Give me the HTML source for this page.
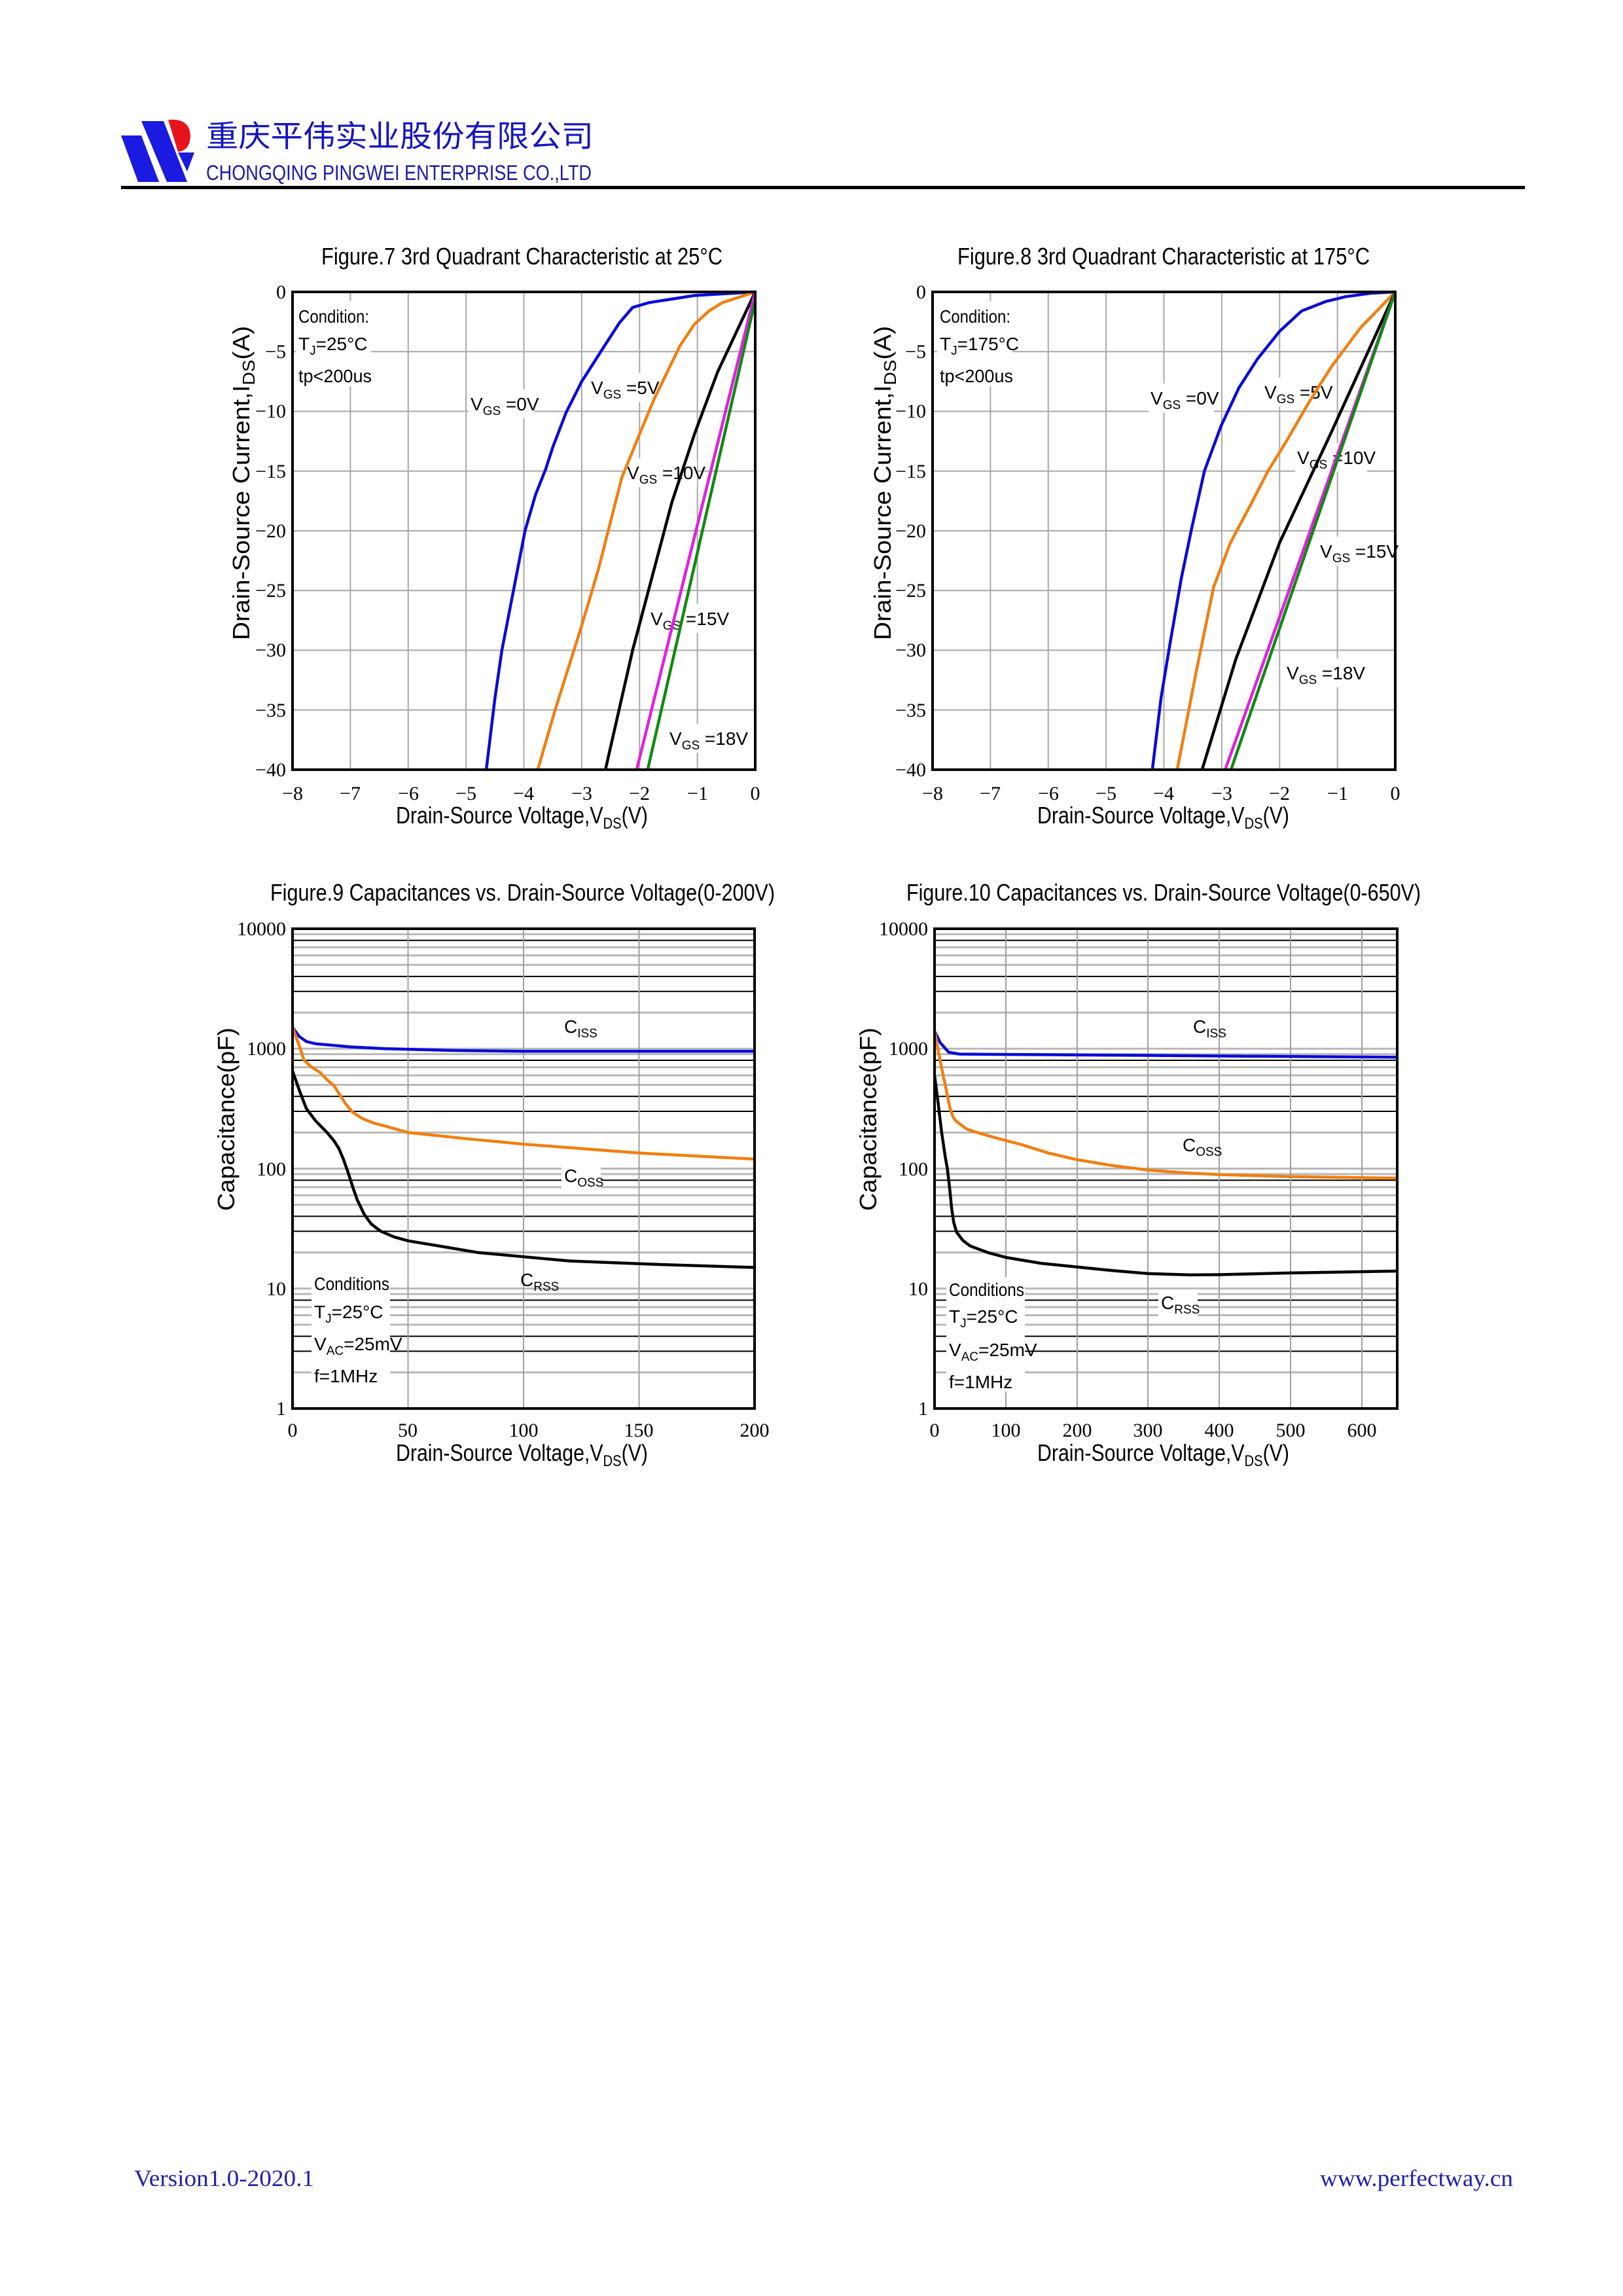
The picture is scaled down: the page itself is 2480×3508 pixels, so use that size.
<!DOCTYPE html>
<html><head><meta charset="utf-8"><style>
html,body{margin:0;padding:0;background:#fff;}
svg{display:block;}
.t{font-family:"Liberation Sans",sans-serif;}
.s{font-family:"Liberation Serif",serif;}
</style></head><body>
<svg width="2480" height="3508" viewBox="0 0 2480 3508" xmlns="http://www.w3.org/2000/svg">
<defs>
<g id="dec">
<line x1="0" x2="1" y1="8.4" y2="8.4" stroke="#b8b8b8" stroke-width="3" vector-effect="non-scaling-stroke"/>
<line x1="0" x2="1" y1="17.8" y2="17.8" stroke="#000" stroke-width="2" vector-effect="non-scaling-stroke"/>
<line x1="0" x2="1" y1="28.4" y2="28.4" stroke="#b8b8b8" stroke-width="3" vector-effect="non-scaling-stroke"/>
<line x1="0" x2="1" y1="40.7" y2="40.7" stroke="#b8b8b8" stroke-width="3" vector-effect="non-scaling-stroke"/>
<line x1="0" x2="1" y1="55.2" y2="55.2" stroke="#b8b8b8" stroke-width="3" vector-effect="non-scaling-stroke"/>
<line x1="0" x2="1" y1="72.9" y2="72.9" stroke="#000" stroke-width="2" vector-effect="non-scaling-stroke"/>
<line x1="0" x2="1" y1="95.8" y2="95.8" stroke="#000" stroke-width="2" vector-effect="non-scaling-stroke"/>
<line x1="0" x2="1" y1="128.1" y2="128.1" stroke="#b8b8b8" stroke-width="3" vector-effect="non-scaling-stroke"/>
<line x1="0" x2="1" y1="183.25" y2="183.25" stroke="#b8b8b8" stroke-width="3" vector-effect="non-scaling-stroke"/>
</g>
</defs>

<!-- Header -->
<polygon points="185,207 216,207 243,278 211,278" fill="#1a1ae0"/>
<polygon points="216,185 250,185 286,278 255,278" fill="#1a1ae0"/>
<polygon points="272,233 297,233 286,262" fill="#1a1ae0"/>
<path d="M257,183 Q290,180 291,208 Q290,230 272,232 Z" fill="#e8141c"/>
<text x="315" y="224" font-family="'Noto Sans CJK SC',sans-serif" font-size="46" fill="#1515c0" textLength="592" lengthAdjust="spacingAndGlyphs">重庆平伟实业股份有限公司</text>
<text x="315" y="275" class="t" font-size="32" fill="#1a1aa8" textLength="589" lengthAdjust="spacingAndGlyphs">CHONGQING PINGWEI ENTERPRISE CO.,LTD</text>
<rect x="185" y="284" width="2145" height="5" fill="#000"/>

<!-- ============ FIG 7 ============ -->
<text x="491" y="404" class="t" font-size="36" textLength="613" lengthAdjust="spacingAndGlyphs">Figure.7 3rd Quadrant Characteristic at 25°C</text>
<g transform="translate(447,446) scale(88.375,18.25)" fill="none" stroke="#a8a8a8" stroke-width="2">
<path vector-effect="non-scaling-stroke" d="M1,0V40M2,0V40M3,0V40M4,0V40M5,0V40M6,0V40M7,0V40M0,5H8M0,10H8M0,15H8M0,20H8M0,25H8M0,30H8M0,35H8"/>
</g>
<g class="t" font-size="28">
<rect x="452" y="460" width="115" height="130" fill="#fff"/>
<text x="456" y="493" textLength="108" lengthAdjust="spacingAndGlyphs">Condition:</text>
<text x="456" y="535">T<tspan font-size="19" dy="7">J</tspan><tspan dy="-7">=25°C</tspan></text>
<text x="456" y="584" textLength="112" lengthAdjust="spacingAndGlyphs">tp&lt;200us</text>
<rect x="716" y="595" width="100" height="44" fill="#fff"/>
<text x="719" y="627">V<tspan font-size="19" dy="7">GS</tspan><tspan dy="-7"> =0V</tspan></text>
<rect x="900" y="570" width="100" height="44" fill="#fff"/>
<text x="903" y="602">V<tspan font-size="19" dy="7">GS</tspan><tspan dy="-7"> =5V</tspan></text>
<rect x="955" y="700" width="110" height="44" fill="#fff"/>
<text x="958" y="732">V<tspan font-size="19" dy="7">GS</tspan><tspan dy="-7"> =10V</tspan></text>
<rect x="991" y="923" width="110" height="44" fill="#fff"/>
<text x="994" y="955">V<tspan font-size="19" dy="7">GS</tspan><tspan dy="-7"> =15V</tspan></text>
<rect x="1020" y="1106" width="110" height="44" fill="#fff"/>
<text x="1023" y="1138">V<tspan font-size="19" dy="7">GS</tspan><tspan dy="-7"> =18V</tspan></text>
</g>
<g transform="translate(447,446) scale(88.375,18.25)" fill="none" stroke-width="4.5" stroke-linejoin="round">
<polyline vector-effect="non-scaling-stroke" stroke="#0a0ad8" points="3.35,40 3.5,34 3.62,30 3.82,25 4.02,20 4.2,17 4.38,14.8 4.5,13 4.73,10.1 5.0,7.5 5.37,4.7 5.65,2.6 5.88,1.3 6.16,0.9 6.95,0.3 8,0"/>
<polyline vector-effect="non-scaling-stroke" stroke="#f07f10" points="4.24,40 4.54,35 4.97,28.4 5.15,25.5 5.29,23.2 5.5,19.2 5.69,15.6 6.0,11.9 6.25,9 6.48,6.7 6.7,4.5 6.95,2.7 7.2,1.6 7.43,0.9 8,0"/>
<polyline vector-effect="non-scaling-stroke" stroke="#000" points="5.41,40 5.88,30 6.56,17.6 6.95,11.9 7.35,6.7 8,0"/>
<polyline vector-effect="non-scaling-stroke" stroke="#e020e0" points="5.95,40 8,0"/>
<polyline vector-effect="non-scaling-stroke" stroke="#108a10" points="6.14,40 8,0.7"/>
</g>
<rect x="447" y="446" width="707" height="730" fill="none" stroke="#000" stroke-width="4"/>
<g class="s" font-size="30" text-anchor="end">
<text x="437" y="456">0</text><text x="437" y="547">−5</text><text x="437" y="638">−10</text><text x="437" y="730">−15</text><text x="437" y="821">−20</text><text x="437" y="912">−25</text><text x="437" y="1003">−30</text><text x="437" y="1095">−35</text><text x="437" y="1186">−40</text>
</g>
<g class="s" font-size="30" text-anchor="middle">
<text x="447" y="1222">−8</text><text x="535" y="1222">−7</text><text x="624" y="1222">−6</text><text x="712" y="1222">−5</text><text x="800" y="1222">−4</text><text x="889" y="1222">−3</text><text x="977" y="1222">−2</text><text x="1066" y="1222">−1</text><text x="1154" y="1222">0</text>
</g>
<text x="605" y="1258" class="t" font-size="36" textLength="385" lengthAdjust="spacingAndGlyphs">Drain-Source Voltage,V<tspan font-size="24" dy="8">DS</tspan><tspan dy="-8">(V)</tspan></text>
<text transform="translate(381,978) rotate(-90)" class="t" font-size="36" textLength="480" lengthAdjust="spacingAndGlyphs">Drain-Source Current,I<tspan font-size="26" dy="8">DS</tspan><tspan dy="-8">(A)</tspan></text>

<!-- ============ FIG 8 ============ -->
<text x="1463" y="404" class="t" font-size="36" textLength="630" lengthAdjust="spacingAndGlyphs">Figure.8 3rd Quadrant Characteristic at 175°C</text>
<g transform="translate(1425,446) scale(88.375,18.25)" fill="none" stroke="#a8a8a8" stroke-width="2">
<path vector-effect="non-scaling-stroke" d="M1,0V40M2,0V40M3,0V40M4,0V40M5,0V40M6,0V40M7,0V40M0,5H8M0,10H8M0,15H8M0,20H8M0,25H8M0,30H8M0,35H8"/>
</g>
<g class="t" font-size="28">
<rect x="1432" y="460" width="115" height="130" fill="#fff"/>
<text x="1436" y="493" textLength="108" lengthAdjust="spacingAndGlyphs">Condition:</text>
<text x="1436" y="535">T<tspan font-size="19" dy="7">J</tspan><tspan dy="-7">=175°C</tspan></text>
<text x="1436" y="584" textLength="112" lengthAdjust="spacingAndGlyphs">tp&lt;200us</text>
<rect x="1755" y="586" width="100" height="44" fill="#fff"/>
<text x="1758" y="618">V<tspan font-size="19" dy="7">GS</tspan><tspan dy="-7"> =0V</tspan></text>
<rect x="1929" y="577" width="100" height="44" fill="#fff"/>
<text x="1932" y="609">V<tspan font-size="19" dy="7">GS</tspan><tspan dy="-7"> =5V</tspan></text>
<rect x="1979" y="677" width="110" height="44" fill="#fff"/>
<text x="1982" y="709">V<tspan font-size="19" dy="7">GS</tspan><tspan dy="-7"> =10V</tspan></text>
<rect x="2014" y="820" width="110" height="44" fill="#fff"/>
<text x="2017" y="852">V<tspan font-size="19" dy="7">GS</tspan><tspan dy="-7"> =15V</tspan></text>
<rect x="1963" y="1006" width="110" height="44" fill="#fff"/>
<text x="1966" y="1038">V<tspan font-size="19" dy="7">GS</tspan><tspan dy="-7"> =18V</tspan></text>
</g>
<g transform="translate(1425,446) scale(88.375,18.25)" fill="none" stroke-width="4.5" stroke-linejoin="round">
<polyline vector-effect="non-scaling-stroke" stroke="#0a0ad8" points="3.8,40 3.95,34 4.1,29.6 4.3,24 4.48,19.8 4.7,15 4.99,11.2 5.3,8 5.62,5.6 6.0,3.3 6.38,1.6 6.8,0.8 7.14,0.4 7.6,0.1 8,0"/>
<polyline vector-effect="non-scaling-stroke" stroke="#f07f10" points="4.23,40 4.55,32 4.86,24.7 5.15,21 5.49,17.9 5.8,15 6.13,12.4 6.5,9.3 6.89,6.3 7.4,3 8,0"/>
<polyline vector-effect="non-scaling-stroke" stroke="#000" points="4.66,40 5.24,30.8 6.0,21 6.89,11.8 8,0"/>
<polyline vector-effect="non-scaling-stroke" stroke="#e020e0" points="5.06,40 8,0"/>
<polyline vector-effect="non-scaling-stroke" stroke="#108a10" points="5.16,40 8,0"/>
</g>
<rect x="1425" y="446" width="707" height="730" fill="none" stroke="#000" stroke-width="4"/>
<g class="s" font-size="30" text-anchor="end">
<text x="1415" y="456">0</text><text x="1415" y="547">−5</text><text x="1415" y="638">−10</text><text x="1415" y="730">−15</text><text x="1415" y="821">−20</text><text x="1415" y="912">−25</text><text x="1415" y="1003">−30</text><text x="1415" y="1095">−35</text><text x="1415" y="1186">−40</text>
</g>
<g class="s" font-size="30" text-anchor="middle">
<text x="1425" y="1222">−8</text><text x="1513" y="1222">−7</text><text x="1602" y="1222">−6</text><text x="1690" y="1222">−5</text><text x="1778" y="1222">−4</text><text x="1867" y="1222">−3</text><text x="1955" y="1222">−2</text><text x="2044" y="1222">−1</text><text x="2132" y="1222">0</text>
</g>
<text x="1585" y="1258" class="t" font-size="36" textLength="385" lengthAdjust="spacingAndGlyphs">Drain-Source Voltage,V<tspan font-size="24" dy="8">DS</tspan><tspan dy="-8">(V)</tspan></text>
<text transform="translate(1361,978) rotate(-90)" class="t" font-size="36" textLength="480" lengthAdjust="spacingAndGlyphs">Drain-Source Current,I<tspan font-size="26" dy="8">DS</tspan><tspan dy="-8">(A)</tspan></text>

<!-- ============ FIG 9 ============ -->
<text x="413" y="1376" class="t" font-size="36" textLength="771" lengthAdjust="spacingAndGlyphs">Figure.9 Capacitances vs. Drain-Source Voltage(0-200V)</text>
<g transform="translate(447,1419) scale(706,1)">
<use href="#dec"/><use href="#dec" y="183.25"/><use href="#dec" y="366.5"/><use href="#dec" y="549.75"/>
</g>
<g stroke="#a0a0a0" stroke-width="2"><line x1="623.5" x2="623.5" y1="1419" y2="2152"/><line x1="800" x2="800" y1="1419" y2="2152"/><line x1="976.5" x2="976.5" y1="1419" y2="2152"/></g>
<g transform="translate(447,1419) scale(3.53,183.25)" fill="none" stroke-width="4.5" stroke-linejoin="round">
<polyline vector-effect="non-scaling-stroke" stroke="#0a0ad8" points="0,0.824 3,0.9 6,0.94 10,0.959 25,0.985 40,1.0 70,1.015 100,1.022 200,1.022"/>
<polyline vector-effect="non-scaling-stroke" stroke="#f07f10" points="0,0.824 3,0.98 5,1.097 8,1.15 12,1.2 15,1.26 18,1.31 20,1.37 23,1.46 26,1.53 30,1.58 35,1.62 40,1.645 50,1.699 75,1.75 100,1.796 150,1.87 200,1.921"/>
<polyline vector-effect="non-scaling-stroke" stroke="#000" points="0,1.187 3,1.35 6,1.5 10,1.602 15,1.7 18,1.77 20,1.83 22,1.92 24,2.03 26,2.15 28,2.26 31,2.38 34,2.46 38,2.52 44,2.57 50,2.602 65,2.65 80,2.699 100,2.735 120,2.77 160,2.8 200,2.824"/>
</g>
<rect x="447" y="1419" width="706" height="733" fill="none" stroke="#000" stroke-width="4"/>
<g class="t" font-size="28">
<text x="862" y="1578">C<tspan font-size="19" dy="7">ISS</tspan></text>
<rect x="858" y="1776" width="60" height="44" fill="#fff"/>
<text x="862" y="1806">C<tspan font-size="19" dy="7">OSS</tspan></text>
<text x="795" y="1965">C<tspan font-size="19" dy="7">RSS</tspan></text>
<rect x="476" y="1942" width="120" height="175" fill="#fff"/>
<text x="480" y="1971" textLength="115" lengthAdjust="spacingAndGlyphs">Conditions</text>
<text x="480" y="2014">T<tspan font-size="19" dy="7">J</tspan><tspan dy="-7">=25°C</tspan></text>
<text x="480" y="2063">V<tspan font-size="19" dy="7">AC</tspan><tspan dy="-7">=25mV</tspan></text>
<text x="480" y="2112">f=1MHz</text>
</g>
<g class="s" font-size="30" text-anchor="end">
<text x="437" y="1429">10000</text><text x="437" y="1612">1000</text><text x="437" y="1796">100</text><text x="437" y="1979">10</text><text x="437" y="2162">1</text>
</g>
<g class="s" font-size="30" text-anchor="middle">
<text x="447" y="2195">0</text><text x="623" y="2195">50</text><text x="800" y="2195">100</text><text x="976" y="2195">150</text><text x="1153" y="2195">200</text>
</g>
<text x="605" y="2232" class="t" font-size="36" textLength="385" lengthAdjust="spacingAndGlyphs">Drain-Source Voltage,V<tspan font-size="24" dy="8">DS</tspan><tspan dy="-8">(V)</tspan></text>
<text transform="translate(358,1850) rotate(-90)" class="t" font-size="36" textLength="280" lengthAdjust="spacingAndGlyphs">Capacitance(pF)</text>

<!-- ============ FIG 10 ============ -->
<text x="1385" y="1376" class="t" font-size="36" textLength="786" lengthAdjust="spacingAndGlyphs">Figure.10 Capacitances vs. Drain-Source Voltage(0-650V)</text>
<g transform="translate(1428,1419) scale(707,1)">
<use href="#dec"/><use href="#dec" y="183.25"/><use href="#dec" y="366.5"/><use href="#dec" y="549.75"/>
</g>
<g stroke="#a0a0a0" stroke-width="2"><line x1="1537" x2="1537" y1="1419" y2="2152"/><line x1="1646" x2="1646" y1="1419" y2="2152"/><line x1="1754" x2="1754" y1="1419" y2="2152"/><line x1="1863" x2="1863" y1="1419" y2="2152"/><line x1="1972" x2="1972" y1="1419" y2="2152"/><line x1="2081" x2="2081" y1="1419" y2="2152"/></g>
<g transform="translate(1428,1419) scale(1.0877,183.25)" fill="none" stroke-width="4.5" stroke-linejoin="round">
<polyline vector-effect="non-scaling-stroke" stroke="#0a0ad8" points="0,0.854 8,0.95 20,1.03 35,1.045 50,1.046 150,1.05 300,1.056 450,1.063 650,1.071"/>
<polyline vector-effect="non-scaling-stroke" stroke="#f07f10" points="0,0.854 4,0.98 8,1.1 12,1.22 15,1.301 19,1.42 22,1.5 26,1.57 30,1.602 45,1.67 60,1.699 90,1.75 120,1.796 160,1.87 200,1.925 250,1.975 300,2.012 350,2.035 400,2.05 500,2.067 650,2.08"/>
<polyline vector-effect="non-scaling-stroke" stroke="#000" points="0,1.222 5,1.45 10,1.699 15,1.9 18,2.0 21,2.15 24,2.33 27,2.45 31,2.53 40,2.6 50,2.645 75,2.7 100,2.74 150,2.79 200,2.82 250,2.85 300,2.875 360,2.886 400,2.884 500,2.87 650,2.854"/>
</g>
<rect x="1428" y="1419" width="707" height="733" fill="none" stroke="#000" stroke-width="4"/>
<g class="t" font-size="28">
<text x="1823" y="1578">C<tspan font-size="19" dy="7">ISS</tspan></text>
<text x="1807" y="1759">C<tspan font-size="19" dy="7">OSS</tspan></text>
<rect x="1770" y="1970" width="60" height="44" fill="#fff"/>
<text x="1774" y="2000">C<tspan font-size="19" dy="7">RSS</tspan></text>
<rect x="1446" y="1951" width="120" height="175" fill="#fff"/>
<text x="1450" y="1980" textLength="115" lengthAdjust="spacingAndGlyphs">Conditions</text>
<text x="1450" y="2021">T<tspan font-size="19" dy="7">J</tspan><tspan dy="-7">=25°C</tspan></text>
<text x="1450" y="2072">V<tspan font-size="19" dy="7">AC</tspan><tspan dy="-7">=25mV</tspan></text>
<text x="1450" y="2121">f=1MHz</text>
</g>
<g class="s" font-size="30" text-anchor="end">
<text x="1418" y="1429">10000</text><text x="1418" y="1612">1000</text><text x="1418" y="1796">100</text><text x="1418" y="1979">10</text><text x="1418" y="2162">1</text>
</g>
<g class="s" font-size="30" text-anchor="middle">
<text x="1428" y="2195">0</text><text x="1537" y="2195">100</text><text x="1646" y="2195">200</text><text x="1754" y="2195">300</text><text x="1863" y="2195">400</text><text x="1972" y="2195">500</text><text x="2081" y="2195">600</text>
</g>
<text x="1585" y="2232" class="t" font-size="36" textLength="385" lengthAdjust="spacingAndGlyphs">Drain-Source Voltage,V<tspan font-size="24" dy="8">DS</tspan><tspan dy="-8">(V)</tspan></text>
<text transform="translate(1339,1850) rotate(-90)" class="t" font-size="36" textLength="280" lengthAdjust="spacingAndGlyphs">Capacitance(pF)</text>

<!-- Footer -->
<text x="205" y="3340" class="s" font-size="36" fill="#2020b0" textLength="275" lengthAdjust="spacingAndGlyphs">Version1.0-2020.1</text>
<text x="2017" y="3340" class="s" font-size="36" fill="#2020b0" textLength="295" lengthAdjust="spacingAndGlyphs">www.perfectway.cn</text>
</svg>
</body></html>
